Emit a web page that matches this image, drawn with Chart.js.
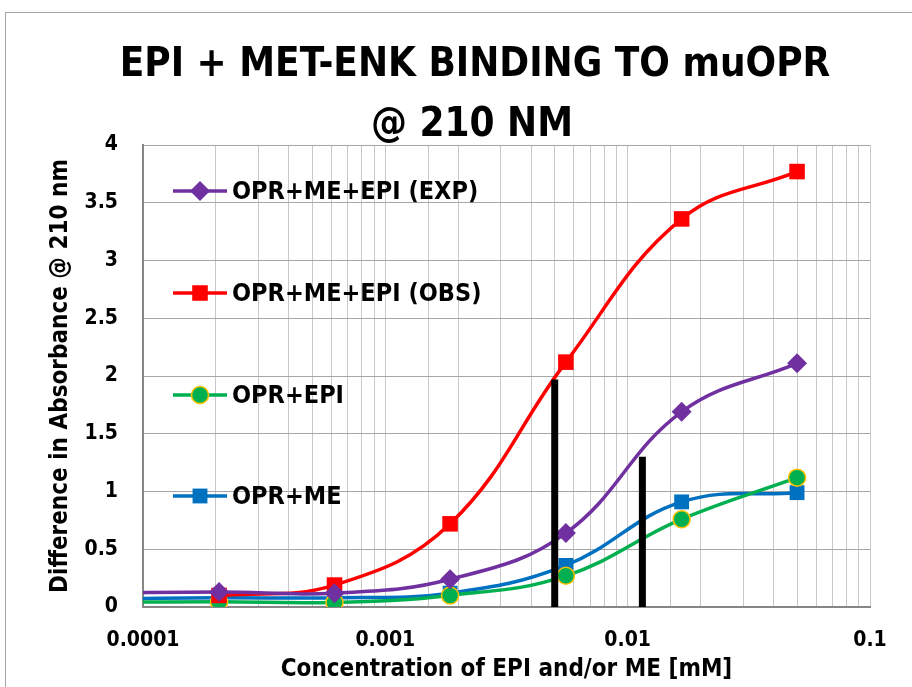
<!DOCTYPE html>
<html>
<head>
<meta charset="utf-8">
<script src="https://cdn.jsdelivr.net/npm/chart.js@4/dist/chart.umd.min.js"></script>
<style>
  html, body { margin: 0; padding: 0; background: #fff; overflow: hidden; }
  #wrap { position: relative; width: 912px; height: 687px; }
  #frame { position: absolute; left: 5px; top: 12px; width: 1000px; height: 800px; border: 1px solid #a6a6a6; box-sizing: border-box; }
  canvas { position: absolute; left: 0; top: 0; }
</style>
</head>
<body>
<div id="wrap">
  <div id="frame"></div>
  <canvas id="myChart" width="912" height="687"></canvas>
</div>
<script>
const FONT = '"Liberation Sans Narrow", "DejaVu Sans Condensed", "Open Sans", sans-serif';

// 3-fold dilution series, concentration in mM
const concentrations = [0.0000686, 0.000206, 0.000617, 0.00185, 0.00556, 0.0167, 0.05];

const seriesNames = ['OPR+ME+EPI (EXP)', 'OPR+ME+EPI (OBS)', 'OPR+EPI', 'OPR+ME'];
const expValues = [0.12, 0.13, 0.12, 0.24, 0.64, 1.69, 2.11];
const obsValues = [null, 0.10, 0.19, 0.72, 2.12, 3.36, 3.77];
const epiValues = [0.04, 0.045, 0.04, 0.10, 0.27, 0.76, 1.12];
const meValues = [0.07, 0.08, 0.08, 0.12, 0.36, 0.91, 0.99];

// black marker bars: [concentration, height]
const markerBars = [[0.005, 1.97], [0.0115, 1.30]];

const xTickLabels = ['0.0001', '0.001', '0.01', '0.1'];
const yTickLabels = ['0', '0.5', '1', '1.5', '2', '2.5', '3', '3.5', '4'];

const titleLines = ['EPI + MET-ENK BINDING TO muOPR', '@ 210 NM'];
const xTitle = 'Concentration of EPI and/or ME [mM]';
const yTitle = 'Difference in Absorbance @ 210 nm';

const styles = [
  { color: '#7030a0', pointStyle: 'rectRot', radius: 10, border: '#7030a0', bw: 0 },
  { color: '#ff0000', pointStyle: 'rect', radius: 11, border: '#ff0000', bw: 0 },
  { color: '#00b050', pointStyle: 'circle', radius: 8.5, border: '#ffc000', bw: 1.5 },
  { color: '#0070c0', pointStyle: 'rect', radius: 10.5, border: '#0070c0', bw: 0 }
];

function toPoints(values) {
  return concentrations.map(function (c, i) { return { x: c, y: values[i] }; })
    .filter(function (p) { return p.y !== null; });
}

const seriesValues = [expValues, obsValues, epiValues, meValues];

const datasets = [];
markerBars.forEach(function (b) {
  datasets.push({
    label: '',
    data: [{ x: b[0], y: 0 }, { x: b[0], y: b[1] }],
    borderColor: '#000',
    borderWidth: 7,
    pointRadius: 0,
    tension: 0,
    order: 0
  });
});
seriesValues.forEach(function (vals, i) {
  const s = styles[i];
  datasets.push({
    label: seriesNames[i],
    data: toPoints(vals),
    borderColor: s.color,
    backgroundColor: s.color,
    borderWidth: 3.5,
    pointStyle: s.pointStyle,
    pointRadius: s.radius,
    pointBackgroundColor: s.color,
    pointBorderColor: s.border,
    pointBorderWidth: s.bw,
    tension: 0.4,
    order: 1
  });
});

// title and in-plot legend drawn by hand so they can sit where the original has them
const customText = {
  id: 'customText',
  afterDraw: function (chart) {
    const ctx = chart.ctx;
    ctx.save();
    ctx.fillStyle = '#000';
    ctx.textAlign = 'center';
    ctx.textBaseline = 'alphabetic';
    ctx.font = 'bold 40px ' + FONT;
    ctx.fillText(titleLines[0], 475, 76);
    ctx.fillText(titleLines[1], 472, 136);

    const rows = [191, 293, 395, 496];
    ctx.font = 'bold 25px ' + FONT;
    ctx.textAlign = 'left';
    rows.forEach(function (y, i) {
      const s = styles[i];
      ctx.strokeStyle = s.color;
      ctx.lineWidth = 3.5;
      ctx.beginPath();
      ctx.moveTo(173, y);
      ctx.lineTo(227, y);
      ctx.stroke();
      ctx.fillStyle = s.color;
      ctx.strokeStyle = s.border;
      ctx.lineWidth = s.bw;
      Chart.helpers.drawPoint(ctx, { pointStyle: s.pointStyle, radius: s.radius, rotation: 0, borderWidth: s.bw }, 200, y);
      ctx.fillStyle = '#000';
      ctx.fillText(seriesNames[i], 232, y + 8);
    });
    ctx.restore();
  }
};

const chart = new Chart(document.getElementById('myChart'), {
  type: 'line',
  data: { datasets: datasets },
  options: {
    responsive: false,
    animation: false,
    layout: { padding: { left: 46, right: 42, top: 145, bottom: 3 } },
    plugins: {
      legend: { display: false },
      tooltip: { enabled: false },
      title: { display: false }
    },
    scales: {
      x: {
        type: 'logarithmic',
        min: 0.0001,
        max: 0.1,
        grid: { color: '#c8c8c8', lineWidth: 1, drawTicks: false },
        border: { color: '#868686', width: 2 },
        ticks: {
          autoSkip: false,
          maxRotation: 0,
          padding: 21,
          color: '#000',
          font: { family: FONT, size: 21, weight: 'bold' },
          callback: function (value) {
            const e = Math.log10(value);
            if (Math.abs(e - Math.round(e)) < 1e-6) {
              return xTickLabels[Math.round(e) + 4];
            }
            return '';
          }
        },
        title: {
          display: true,
          text: xTitle,
          color: '#000',
          padding: { top: 2, bottom: 0 },
          font: { family: FONT, size: 24, weight: 'bold' }
        },
        afterFit: function (scale) { scale.height = 77; }
      },
      y: {
        min: 0,
        max: 4,
        grid: { color: '#a6a6a6', lineWidth: 1, drawTicks: false },
        border: { color: '#868686', width: 2 },
        ticks: {
          stepSize: 0.5,
          padding: 25,
          color: '#000',
          font: { family: FONT, size: 21, weight: 'bold' },
          callback: function (value) { return yTickLabels[Math.round(value * 2)]; }
        },
        title: {
          display: true,
          text: yTitle,
          color: '#000',
          padding: 0,
          font: { family: FONT, size: 24, weight: 'bold' }
        },
        afterFit: function (scale) { scale.width = 97; }
      }
    }
  },
  plugins: [customText]
});
</script>
</body>
</html>
